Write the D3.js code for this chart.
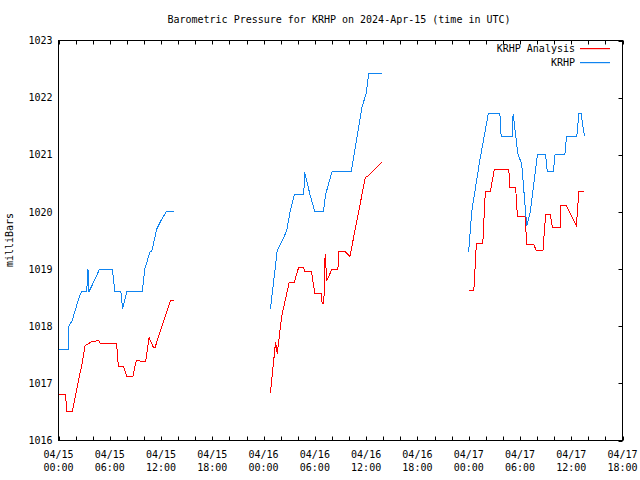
<!DOCTYPE html>
<html><head><meta charset="utf-8">
<script src="https://cdn.jsdelivr.net/npm/d3@7/dist/d3.min.js"></script>
<style>
html,body{margin:0;padding:0;background:#fff;}
svg text{font-family:"DejaVu Sans Mono",monospace;font-size:10px;fill:#000;}
</style></head>
<body><svg id="c" width="640" height="480"></svg>
<script>
const title = "Barometric Pressure for KRHP on 2024-Apr-15 (time in UTC)";
const yLabel = "milliBars";
const seriesNames = ["KRHP Analysis", "KRHP"];
const yTicks = [1016,1017,1018,1019,1020,1021,1022,1023];
// hours since 2024-04-15 00:00 UTC; null = gap
const krhpHours = [0.05,1.15,1.2,1.6,2.0,2.4,2.7,3.3,3.45,3.55,4.2,4.8,6.3,6.6,7.3,7.5,8.0,9.8,10.1,10.7,10.9,11.5,12.0,12.6,13.5,
  null,
  24.8,25.6,26.2,26.7,27.1,27.6,28.7,28.8,29.4,30.0,31.0,31.25,32.0,34.25,35.5,36.0,36.3,37.8,
  null,
  48.0,48.35,49.3,50.3,51.65,51.8,53.1,53.2,53.75,54.2,54.8,55.2,56.05,57.0,57.2,57.9,58.1,59.25,59.45,60.65,60.9,61.15,61.55];
const krhpValues = [1017.6,1017.6,1018.0,1018.1,1018.3,1018.5,1018.6,1018.6,1019.0,1018.6,1018.8,1019.0,1019.0,1018.6,1018.6,1018.3,1018.6,1018.6,1019.0,1019.3,1019.3,1019.7,1019.85,1020.0,1020.0,
  null,
  1018.3,1019.33,1019.5,1019.67,1020.0,1020.3,1020.3,1020.7,1020.32,1020.0,1020.0,1020.3,1020.7,1020.7,1021.83,1022.07,1022.42,1022.42,
  null,
  1019.3,1020.0,1020.9,1021.72,1021.72,1021.32,1021.32,1021.72,1021.02,1020.84,1019.75,1020.0,1021.0,1021.0,1020.7,1020.7,1021.0,1021.0,1021.32,1021.32,1021.72,1021.72,1021.32];
const analysisHours = [0.05,0.84,0.95,1.6,2.4,2.7,3.1,3.9,4.7,4.9,6.8,7.0,7.6,8.0,8.7,9.1,10.2,10.6,11.1,11.3,13.1,13.5,
  null,
  24.8,25.4,25.6,26.1,27.0,27.6,28.1,28.7,28.8,29.6,30.0,30.75,30.85,31.05,31.2,31.4,32.0,32.7,32.8,33.5,34.1,35.9,36.3,37.8,
  null,
  48.0,48.6,48.9,49.65,49.95,50.55,51.0,52.7,52.8,53.5,53.7,54.6,54.8,55.6,55.9,56.7,57.0,57.55,57.8,58.7,58.8,59.4,60.6,60.9,61.55];
const analysisValues = [1016.8,1016.8,1016.5,1016.5,1017.1,1017.3,1017.66,1017.73,1017.75,1017.7,1017.7,1017.3,1017.3,1017.12,1017.12,1017.4,1017.38,1017.8,1017.63,1017.63,1018.45,1018.45,
  null,
  1016.83,1017.72,1017.52,1018.16,1018.77,1018.77,1019.03,1019.03,1018.95,1018.95,1018.58,1018.58,1018.4,1018.4,1019.26,1018.8,1019.0,1019.0,1019.31,1019.31,1019.22,1020.6,1020.64,1020.87,
  null,
  1018.62,1018.62,1019.45,1019.45,1020.36,1020.36,1020.75,1020.75,1020.42,1020.42,1019.92,1019.92,1019.43,1019.43,1019.33,1019.33,1019.95,1019.95,1019.72,1019.72,1020.12,1020.12,1019.76,1020.36,1020.36];

const t0 = Date.UTC(2024,3,15,0,0);
const toDate = h => new Date(t0 + h*3600000);
const svg = d3.select("#c");
const L=58.5, R=622.5, T=40.5, B=440.5;
const x = d3.scaleUtc().domain([toDate(0), toDate(66)]).range([L,R]);
const y = d3.scaleLinear().domain([1016,1023]).range([B,T]);

// title
svg.append("text").attr("x",339).attr("y",23).attr("text-anchor","middle").text(title);
// y label
svg.append("text").attr("transform","translate(13,240) rotate(-90)").attr("text-anchor","middle").text(yLabel);

// frame
svg.append("rect").attr("x",L).attr("y",T).attr("width",R-L).attr("height",B-T)
  .attr("fill","none").attr("stroke","#000").attr("stroke-width",1);

// x ticks (bottom and top, inward)
const minor = d3.utcHour.every(2).range(toDate(0), toDate(66.01));
const gT = svg.append("g").attr("stroke","#000").attr("stroke-width",1);
minor.forEach(d=>{
  const xx = Math.round(x(d))+0.5;
  gT.append("line").attr("x1",xx).attr("x2",xx).attr("y1",B).attr("y2",B-4);
  gT.append("line").attr("x1",xx).attr("x2",xx).attr("y1",T).attr("y2",T+4);
});
// bottom axis labels
const major = d3.utcHour.every(6).range(toDate(0), toDate(66.01));
const fmtD = d3.utcFormat("%m/%d"), fmtH = d3.utcFormat("%H:%M");
const xa = svg.append("g").attr("transform",`translate(0,${B})`)
  .call(d3.axisBottom(x).tickValues(major).tickSize(0).tickFormat(""));
xa.select(".domain").remove();
major.forEach(d=>{
  const t = svg.append("text").attr("x",x(d)).attr("y",458).attr("text-anchor","middle");
  t.append("tspan").attr("x",x(d)).text(fmtD(d));
  t.append("tspan").attr("x",x(d)).attr("dy",13).text(fmtH(d));
});

// y axis labels (left) and ticks (right, inward)
const ya = svg.append("g").attr("transform",`translate(${L},0)`)
  .call(d3.axisLeft(y).tickValues(yTicks).tickSize(0).tickPadding(6).tickFormat(d3.format("d")));
ya.select(".domain").remove();
ya.selectAll("text").style("font-family",'"DejaVu Sans Mono",monospace').style("font-size","10px").attr("fill","#000");
yTicks.forEach(v=>{
  const yy = Math.round(y(v))+0.5;
  gT.append("line").attr("x1",R).attr("x2",R-4).attr("y1",yy).attr("y2",yy);
});

// lines
function mk(hours, vals){ return hours.map((h,i)=> (h===null||vals[i]===null)? null : {d:toDate(h), v:vals[i]}); }
const line = d3.line().defined(p=>p!==null).x(p=>x(p.d)).y(p=>y(p.v));
const colors = ["#ff0000","#0f84f0"];
const data = [mk(analysisHours, analysisValues), mk(krhpHours, krhpValues)];
data.forEach((s,i)=>{
  svg.append("path").datum(s).attr("d",line).attr("fill","none")
    .style("stroke",colors[i]).style("stroke-width","1px").attr("shape-rendering","crispEdges");
});

// legend
seriesNames.forEach((n,i)=>{
  const yy = 48 + i*14;
  svg.append("text").attr("x",575).attr("y",yy+4).attr("text-anchor","end").text(n);
  svg.append("rect").attr("x",580).attr("y",yy).attr("width",30).attr("height",1.2)
    .style("fill",colors[i]).style("stroke","none");
});
</script></body></html>
